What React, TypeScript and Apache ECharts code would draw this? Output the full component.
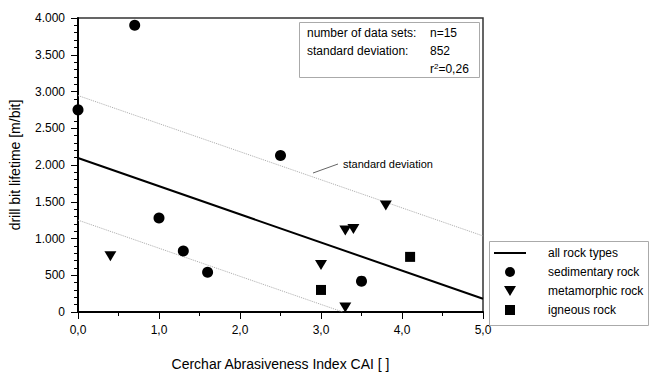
import React, { useEffect, useRef } from "react";
import * as echarts from "echarts";

const FONT = "'Liberation Sans', Arial, Helvetica, sans-serif";

const sedimentary: number[][] = [
  [0.0, 2750], [0.7, 3900], [1.0, 1280], [1.3, 830], [1.6, 540], [2.5, 2130], [3.5, 420],
];
const metamorphic: number[][] = [
  [0.4, 760], [3.0, 640], [3.3, 60], [3.3, 1110], [3.4, 1130], [3.8, 1450],
];
const igneous: number[][] = [
  [3.0, 300], [4.1, 750],
];
const regression: number[][] = [[0, 2095], [5, 180]];
const upperStd: number[][] = [[0, 2945], [5, 1035]];
const lowerStd: number[][] = [[0, 1250], [3.27, 0]];

const legendNames = ["all rock types", "sedimentary rock", "metamorphic rock", "igneous rock"];
const legendIcons = [
  "path://M0,4H32V6H0Z",
  "path://M5,0A5,5 0 1,1 5,10A5,5 0 1,1 5,0Z",
  "path://M0,0L12,0L6,10Z",
  "path://M0,0H10V10H0Z",
];
const statLabels = ["number of data sets:", "standard deviation:", ""];
const statValues = ["n=15", "852", "r{sup|2}=0,26"];

export default function App() {
  const ref = useRef<HTMLDivElement>(null);
  useEffect(() => {
    if (!ref.current) return;
    const chart = echarts.init(ref.current, undefined, { renderer: "svg" });
    const statTexts: any[] = [];
    statLabels.forEach((t, i) => {
      if (t)
        statTexts.push({
          type: "text", x: 307, y: 33 + i * 18, z: 10,
          style: { text: t, fontSize: 12, fontFamily: FONT, fill: "#000", verticalAlign: "middle" },
        });
      statTexts.push({
        type: "text", x: 430, y: 33 + i * 18, z: 10,
        style: {
          text: statValues[i], fontSize: 12, fontFamily: FONT, fill: "#000", verticalAlign: "middle",
          rich: { sup: { fontSize: 8, verticalAlign: "top", padding: [0, 0, 5, 0], fontFamily: FONT, fill: "#000" } },
        },
      });
    });
    chart.setOption({
      animation: false,
      textStyle: { fontFamily: FONT },
      grid: {
        left: 76, right: 166, top: 18, bottom: 51,
        show: true, borderColor: "#333", borderWidth: 1.5, backgroundColor: "transparent",
      },
      xAxis: {
        type: "value", min: 0, max: 5, interval: 1,
        name: "Cerchar Abrasiveness Index CAI [ ]", nameLocation: "middle", nameGap: 45,
        nameTextStyle: { fontSize: 14, color: "#000", fontFamily: FONT },
        axisLine: { show: true, onZero: false, lineStyle: { color: "#000", width: 2 } },
        axisTick: { show: true, length: 7, lineStyle: { color: "#000", width: 1 } },
        minorTick: { show: true, splitNumber: 2, length: 4, lineStyle: { color: "#000", width: 1 } },
        splitLine: { show: false },
        axisLabel: {
          fontSize: 12, color: "#000", margin: 12, fontFamily: FONT,
          formatter: (v: number) => v.toFixed(1).replace(".", ","),
        },
      },
      yAxis: {
        type: "value", min: 0, max: 4000, interval: 500,
        name: "drill bit lifetime [m/bit]", nameLocation: "middle", nameGap: 56, nameRotate: 90,
        nameTextStyle: { fontSize: 14, color: "#000", fontFamily: FONT },
        axisLine: { show: true, onZero: false, lineStyle: { color: "#000", width: 2 } },
        axisTick: { show: true, length: 7, lineStyle: { color: "#000", width: 1 } },
        minorTick: { show: true, splitNumber: 5, length: 4, lineStyle: { color: "#000", width: 1 } },
        splitLine: { show: false },
        axisLabel: {
          fontSize: 12, color: "#000", margin: 13, fontFamily: FONT,
          formatter: (v: number) =>
            v >= 1000 ? `${Math.floor(v / 1000)}.${String(v % 1000).padStart(3, "0")}` : String(v),
        },
      },
      legend: {
        data: legendNames.map((n, i) => ({ name: n, icon: legendIcons[i] })),
        orient: "vertical", left: 494, top: 247, padding: 0,
        itemWidth: 32, itemHeight: 10, itemGap: 7, z: 10,
        symbolKeepAspect: true,
        itemStyle: { color: "#000", borderWidth: 0 },
        textStyle: { fontSize: 12, color: "#000", fontFamily: FONT, padding: [0, 0, 0, 17] },
        selectedMode: false,
      },
      graphic: [
        {
          type: "rect", z: 5, shape: { x: 489.5, y: 241.5, width: 159, height: 84 },
          style: { fill: "#fff", stroke: "#aaa", lineWidth: 1 },
        },
        {
          type: "rect", z: 5, shape: { x: 299.5, y: 22.5, width: 180, height: 55 },
          style: { fill: "#fff", stroke: "#aaa", lineWidth: 1 },
        },
        ...statTexts,
        {
          type: "line", z: 10, shape: { x1: 313, y1: 173, x2: 338, y2: 164 },
          style: { stroke: "#666", lineWidth: 1 },
        },
        {
          type: "text", x: 343, y: 164, z: 10,
          style: { text: "standard deviation", fontSize: 11, fontFamily: FONT, fill: "#000", verticalAlign: "middle" },
        },
      ],
      series: [
        {
          name: "upper std", type: "line", data: upperStd, symbol: "none", silent: true,
          lineStyle: { color: "#aaa", width: 1, type: "dotted" }, z: 1,
        },
        {
          name: "lower std", type: "line", data: lowerStd, symbol: "none", silent: true,
          lineStyle: { color: "#aaa", width: 1, type: "dotted" }, z: 1,
        },
        {
          name: "all rock types", type: "line", data: regression, symbol: "none",
          lineStyle: { color: "#000", width: 2 }, itemStyle: { color: "#000" }, z: 2,
        },
        {
          name: "sedimentary rock", type: "scatter", data: sedimentary, symbol: "circle", symbolSize: 11,
          itemStyle: { color: "#000", opacity: 1 }, z: 3,
        },
        {
          name: "metamorphic rock", type: "scatter", data: metamorphic, symbol: "triangle", symbolRotate: 180,
          symbolSize: [12, 10], itemStyle: { color: "#000", opacity: 1 }, z: 3,
        },
        {
          name: "igneous rock", type: "scatter", data: igneous, symbol: "rect", symbolSize: 10,
          itemStyle: { color: "#000", opacity: 1 }, z: 3,
        },
      ],
    });
    return () => chart.dispose();
  }, []);
  return (
    <div
      ref={ref}
      style={{ position: "fixed", left: 0, top: 0, width: 649, height: 376, background: "#fff" }}
    />
  );
}
